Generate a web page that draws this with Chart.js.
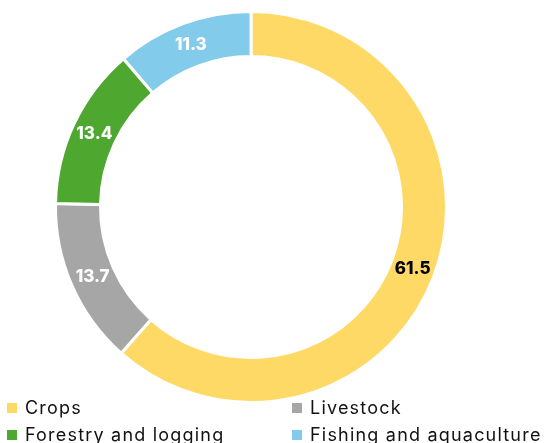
<!DOCTYPE html>
<html>
<head>
<meta charset="utf-8">
<script src="https://cdn.jsdelivr.net/npm/chart.js@4"></script>
<style>
  html, body { margin: 0; padding: 0; background: #fff; }
  body { width: 554px; height: 443px; overflow: hidden; position: relative; font-family: Inter, "Noto Sans", sans-serif; }
  #wrap { position: absolute; left: 0; top: 0; width: 554px; height: 404px; }
  #legend { position: absolute; left: 0; top: 395px; width: 554px; }
  .item { position: absolute; font-size: 18px; letter-spacing: 1.2px; color: #111; white-space: nowrap; line-height: 26px; }
  .item span { display: inline-block; width: 10px; height: 10px; margin-right: 8px; vertical-align: 1px; }
</style>
</head>
<body>
<div id="wrap"><canvas id="grafico"></canvas></div>
<div id="legend"></div>
<script>
const categories = ["Crops", "Livestock", "Forestry and logging", "Fishing and aquaculture"];
const shares = [61.5, 13.7, 13.4, 11.3];
const colors = ["#FFD966", "#A6A6A6", "#4EA72E", "#83CBEB"];
const labelColors = ["#000000", "#ffffff", "#ffffff", "#ffffff"];

// draws the value in the middle of each slice
const sliceLabels = {
    id: 'sliceLabels',
    afterDatasetsDraw(chart) {
        const ctx = chart.ctx;
        const meta = chart.getDatasetMeta(0);
        ctx.save();
        ctx.font = '800 17px Inter, "Noto Sans", sans-serif';
        ctx.textAlign = 'center';
        ctx.textBaseline = 'middle';
        meta.data.forEach((arc, i) => {
            const p = arc.tooltipPosition();
            ctx.fillStyle = labelColors[i];
            ctx.fillText(shares[i].toFixed(1), p.x, p.y);
        });
        ctx.restore();
    }
};

const chart = new Chart(
    document.getElementById('grafico'),
    {
        type: 'doughnut',
        data: {
            labels: categories,
            datasets: [{
                data: shares,
                backgroundColor: colors,
                borderColor: '#ffffff',
                borderWidth: 3
            }]
        },
        options: {
            responsive: true,
            maintainAspectRatio: false,
            animation: false,
            cutout: '77%',
            layout: { padding: { top: 10, bottom: 0, left: 0, right: 52 } },
            plugins: {
                legend: { display: false },
                tooltip: { enabled: false }
            }
        },
        plugins: [sliceLabels]
    }
);

// legend in two columns
const legend = document.getElementById('legend');
const spots = [[7, 0], [292, 0], [7, 27], [292, 27]];
categories.forEach((name, i) => {
    const div = document.createElement('div');
    div.className = 'item';
    div.style.left = spots[i][0] + 'px';
    div.style.top = spots[i][1] + 'px';
    div.innerHTML = '<span style="background:' + colors[i] + '"></span>' + name;
    legend.appendChild(div);
});
</script>
</body>
</html>
